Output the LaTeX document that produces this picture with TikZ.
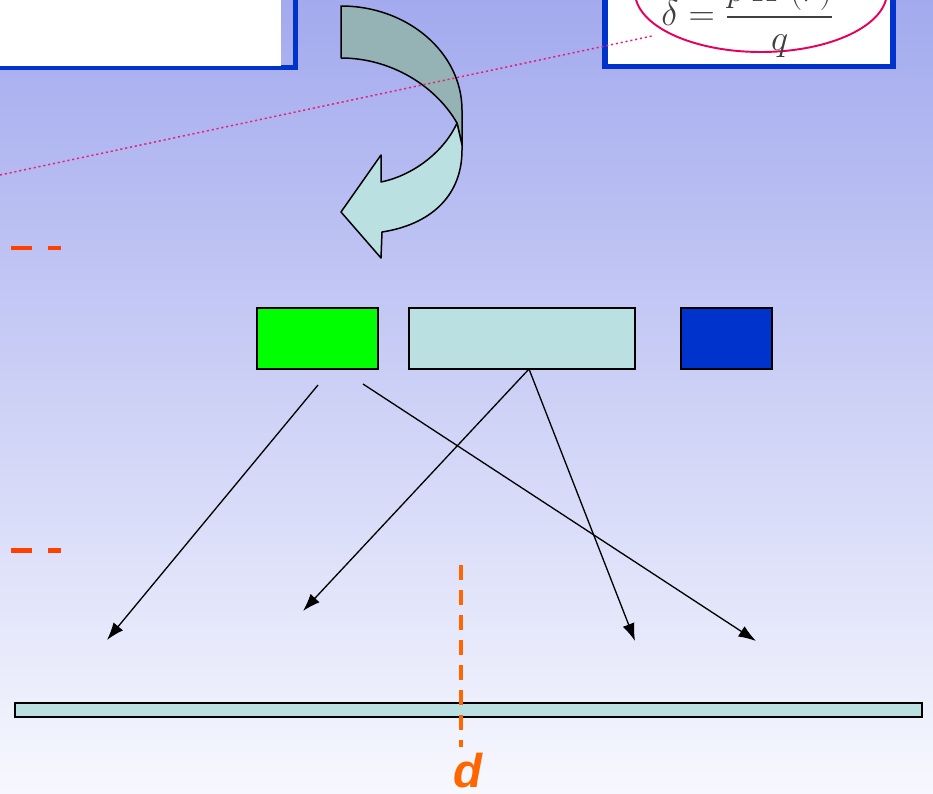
\documentclass[tikz,border=0pt]{standalone}
\usepackage{fontspec}
\usepackage{amsmath}
\usetikzlibrary{arrows.meta,calc}
\newfontfamily\labelfont{Liberation Sans}
\definecolor{slideTop}{HTML}{A3AAEE}
\definecolor{slideBottom}{HTML}{F7F8FE}
\definecolor{frameBlue}{HTML}{0033CC}
\definecolor{paleTeal}{HTML}{BAE0E2}
\definecolor{darkTeal}{HTML}{95B3B5}
\definecolor{brightGreen}{HTML}{00FF00}
\definecolor{ringPink}{HTML}{E6005C}
\definecolor{dotPink}{HTML}{E8207A}
\definecolor{markRed}{HTML}{FF4000}
\definecolor{cutOrange}{HTML}{FF6600}

\begin{document}
\begin{tikzpicture}[x=0.02cm,y=-0.02cm,
    box/.style={draw=black,line width=0.85pt,inner sep=0pt},
    link/.style={-{Latex[length=10pt,width=7pt]},line width=0.75pt},
    turnarrow/.style={draw=black,line width=0.85pt,line join=round}]
  \useasboundingbox (0,0) rectangle (933,794);
  \clip (0,0) rectangle (933,794);
  \shade[top color=slideTop,bottom color=slideBottom] (0,0) rectangle (933,794);

  % cut-off panels at the top
  \draw[frameBlue,line width=2.8pt] (-10,-10) rectangle (295.5,67.5);
  \fill[white] (-10,-10) rectangle (281,66.5);
  \draw[frameBlue,line width=3.4pt,fill=white] (605,-10) rectangle (893,66.5);
  \draw[ringPink,line width=1.1pt] (761,-8) ellipse [x radius=126,y radius=60];
  \node[anchor=base west,inner sep=0pt,text=black!75,font=\fontsize{20.5}{24}\selectfont]
    (delta) at (661,26) {$\displaystyle\delta=\frac{p\,H\,(r)}{q}$};

  % curved block arrow
  \filldraw[turnarrow,fill=darkTeal] (341,6) -- (341,58)
    .. controls (390,58) and (435,85) .. (457,123) -- (462,145) -- (462,110)
    .. controls (462,53) and (408,6) .. (341,6) -- cycle;
  \filldraw[turnarrow,fill=paleTeal] (457,123)
    .. controls (445,150) and (415,175) .. (381,182)
    -- (381,155) -- (341,212) -- (381,258) -- (382,232)
    .. controls (428,225) and (462,198) .. (462,150) -- (462,145) -- cycle;

  \coordinate (dotA) at (0,175);
  \coordinate (dotB) at (652,36);
  \draw[dotPink,line width=0.85pt,dash pattern=on 1.2pt off 1.6pt] (dotA) -- (dotB);

  % left marks
  \draw[markRed,line width=2.8pt] (11,248) -- (32,248) (48,248) -- (61,248);
  \draw[markRed,line width=2.8pt] (11,550.5) -- (32,550.5) (48,550.5) -- (61,550.5);

  % blocks
  \node[box,fill=brightGreen,minimum width=2.42cm,minimum height=1.22cm] (green) at (317.5,338.5) {};
  \node[box,fill=paleTeal,minimum width=4.52cm,minimum height=1.22cm] (teal) at (522,338.5) {};
  \node[box,fill=frameBlue,minimum width=1.82cm,minimum height=1.22cm] (blue) at (726.5,338.5) {};

  \node[box,fill=paleTeal,minimum width=18.14cm,minimum height=0.28cm] (bar) at (468.5,710) {};

  % arrows
  \coordinate (gA) at (318,385);
  \coordinate (gB) at (363,384);
  \coordinate (split) at (529,369);
  \coordinate (t1) at (107,640);
  \coordinate (t2) at (303,611);
  \coordinate (t3) at (635,641);
  \coordinate (t4) at (756,641);
  \draw[link] (gA) -- (t1);
  \draw[link] (gB) -- (t4);
  \draw[link] (split) -- (t2);
  \draw[link] (split) -- (t3);

  % cut line
  \coordinate (cutTop) at (461,565);
  \coordinate (cutBot) at (461,747);
  \draw[cutOrange,line width=2.3pt,dash pattern=on 8.5pt off 5.7pt] (cutTop) -- (cutBot);
  \node[anchor=base,inner sep=0pt,text=cutOrange,font=\labelfont\bfseries\itshape\fontsize{27}{30}\selectfont]
    (dlabel) at (468,787) {d};
\end{tikzpicture}
\end{document}
